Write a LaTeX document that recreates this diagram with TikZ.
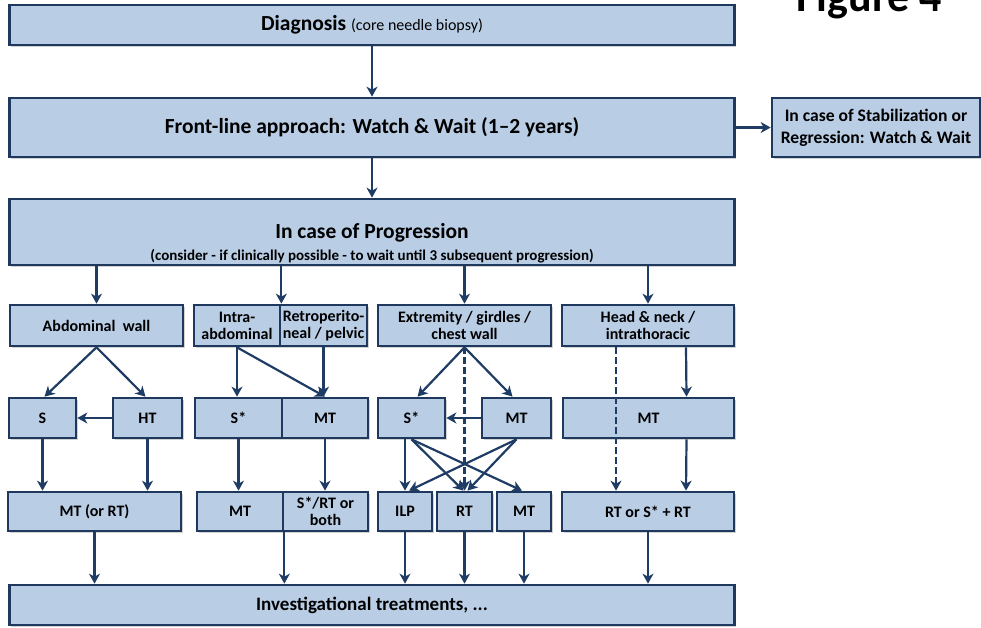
\documentclass[tikz,border=0pt]{standalone}
\usepackage{fontspec}
\setmainfont{Carlito}
\usetikzlibrary{arrows.meta, shadows}

\definecolor{boxfill}{RGB}{185,205,229}
\definecolor{boxline}{RGB}{31,56,94}
\definecolor{arrowline}{RGB}{31,60,100}

\begin{document}
\begin{tikzpicture}[%
        x = 1pt, y = -1pt,
        > = {Stealth[length = 10pt, width = 11pt, inset = 3pt]},
        box/.style = {
            draw = boxline, fill = boxfill, line width = 2.7pt,
            inner sep = 0pt, align = center,
            drop shadow = {shadow xshift = 1.5pt, shadow yshift = -1.8pt, opacity = 0.35},
            font = \fontsize{16}{17}\selectfont\bfseries
        },
        bigbox/.style = {box, minimum width = 725pt, font = \fontsize{21.5}{24}\selectfont\bfseries},
        arrow/.style = {->, draw = arrowline, line width = 2.2pt},
        dashedarrow/.style = {arrow, dash pattern = on 7pt off 3pt}
    ]

        \useasboundingbox (0.0, 0.0) rectangle (981.0, 627.0);

        % Title in the corner, cut by the page edge.
        \node[anchor = base west, font = \fontsize{44}{44}\selectfont\bfseries] (figlabel) at (793.0, 11.0) {Figure 4};

        % Main boxes down the left side.
        \node[bigbox, minimum height = 40pt] (diag) at (372.0, 25.0)
            {Diagnosis {\fontsize{16}{18}\selectfont\mdseries (core needle biopsy)}};
        \node[bigbox, minimum height = 59pt] (front) at (372.0, 127.5)
            {Front-line approach: Watch \& Wait (1--2 years)};
        \node[box, minimum width = 208pt, minimum height = 59pt, font = \fontsize{17.6}{22}\selectfont\bfseries] (stab) at (876.0, 127.5)
            {In case of Stabilization or\\Regression: Watch \& Wait};
        \node[bigbox, minimum height = 66pt] (prog) at (372.0, 232.0)
            {\rule{0pt}{38pt}In case of Progression\\[-2pt]{\fontsize{15}{17}\selectfont (consider - if clinically possible - to wait until 3 subsequent progression)}};
        \node[bigbox, minimum height = 40pt, font = \fontsize{19}{22}\selectfont\bfseries] (inv) at (372.0, 605.0)
            {Investigational treatments, ...};

        % Sites.
        \node[box, minimum width = 173pt, minimum height = 41pt] (abd) at (96.5, 325.5) {Abdominal\ \ wall};
        \node[box, minimum width = 86pt, minimum height = 41pt] (intra) at (237.0, 325.5) {Intra-\\abdominal};
        \node[box, minimum width = 87pt, minimum height = 41pt] (retro) at (323.5, 325.5) {Retroperito-\\neal / pelvic};
        \node[box, minimum width = 173pt, minimum height = 41pt] (ext) at (464.5, 325.5) {Extremity / girdles /\\chest wall};
        \node[box, minimum width = 172pt, minimum height = 41pt] (head) at (648.0, 325.5) {Head \& neck /\\intrathoracic};

        % First treatments.
        \node[box, minimum width = 67pt, minimum height = 40pt] (s) at (42.5, 418.0) {S};
        \node[box, minimum width = 69pt, minimum height = 40pt] (ht) at (147.5, 418.0) {HT};
        \node[box, minimum width = 87pt, minimum height = 40pt] (sint) at (238.5, 418.0) {S*};
        \node[box, minimum width = 86pt, minimum height = 40pt] (mtint) at (325.0, 418.0) {MT};
        \node[box, minimum width = 67pt, minimum height = 40pt] (sext) at (411.5, 418.0) {S*};
        \node[box, minimum width = 69pt, minimum height = 40pt] (mtext) at (516.5, 418.0) {MT};
        \node[box, minimum width = 171pt, minimum height = 40pt] (mthead) at (648.5, 418.0) {MT};

        % Second treatments.
        \node[box, minimum width = 173pt, minimum height = 39pt] (mtor) at (94.5, 511.5) {MT (or RT)};
        \node[box, minimum width = 86pt, minimum height = 39pt] (mtb) at (240.0, 511.5) {MT};
        \node[box, minimum width = 85pt, minimum height = 39pt] (srt) at (325.5, 511.5) {S*/RT or\\both};
        \node[box, minimum width = 54pt, minimum height = 39pt] (ilp) at (405.0, 511.5) {ILP};
        \node[box, minimum width = 55pt, minimum height = 39pt] (rt) at (464.5, 511.5) {RT};
        \node[box, minimum width = 54pt, minimum height = 39pt] (mt3) at (524.0, 511.5) {MT};
        \node[box, minimum width = 172pt, minimum height = 39pt] (rtor) at (648.0, 511.5) {RT or S* + RT};

        % Top of the chart.
        \draw[arrow] (diag) to (front);
        \draw[arrow] (front) to (stab);
        \draw[arrow] (front) to (prog);

        % Progression to the sites.
        \draw[arrow] (prog.south -| abd.north) to (abd.north);
        \draw[arrow] (prog.south -| intra.north east) to (intra.north east);
        \draw[arrow] (prog.south -| ext.north) to (ext.north);
        \draw[arrow] (prog.south -| head.north) to (head.north);

        % Sites to first treatments.
        \draw[arrow] (abd.south) to ([xshift = 2pt]s.north);
        \draw[arrow] (abd.south) to ([xshift = -2pt]ht.north);
        \draw[arrow] (intra.south) to (intra.south |- sint.north);
        \draw[arrow] (intra.south) to (mtint.north);
        \draw[arrow] (retro.south) to (retro.south |- mtint.north);
        \draw[arrow] (ext.south) to ([xshift = 6pt]sext.north);
        \draw[arrow] (ext.south) to ([xshift = -4pt]mtext.north);
        \draw[arrow] ([xshift = 38pt]head.south) to ([xshift = 38pt]mthead.north);
        \draw[arrow] (ht) to (s);
        \draw[arrow] (mtext) to (sext);

        % First to second treatments.
        \draw[arrow] (s.south) to (s.south |- mtor.north);
        \draw[arrow] (ht.south) to (ht.south |- mtor.north);
        \draw[arrow] (sint.south) to (sint.south |- mtb.north);
        \draw[arrow] (mtint.south) to (mtint.south |- srt.north);
        \draw[arrow] (ilp.north |- sext.south) to (ilp.north);
        \draw[arrow] (sext.south) to ([xshift = -1pt]rt.north);
        \draw[arrow] (sext.south) to ([xshift = -2pt]mt3.north);
        \draw[arrow] (mtext.south) to ([xshift = 4pt]ilp.north);
        \draw[arrow] (mtext.south) to ([xshift = 3pt]rt.north);
        \draw[arrow] ([xshift = 38pt]mthead.south) to ([xshift = 38pt]rtor.north);
        \draw[dashedarrow] (ext.south) to (rt.north);
        \draw[dashedarrow] ([xshift = -32pt]head.south) to ([xshift = -32pt]rtor.north);

        % Into the last box.
        \draw[arrow] (mtor.south) to (mtor.south |- inv.north);
        \draw[arrow] (mtb.south east) to (mtb.south east |- inv.north);
        \draw[arrow] (ilp.south) to (ilp.south |- inv.north);
        \draw[arrow] (rt.south) to (rt.south |- inv.north);
        \draw[arrow] (mt3.south) to (mt3.south |- inv.north);
        \draw[arrow] (rtor.south) to (rtor.south |- inv.north);
    \end{tikzpicture}
\end{document}
